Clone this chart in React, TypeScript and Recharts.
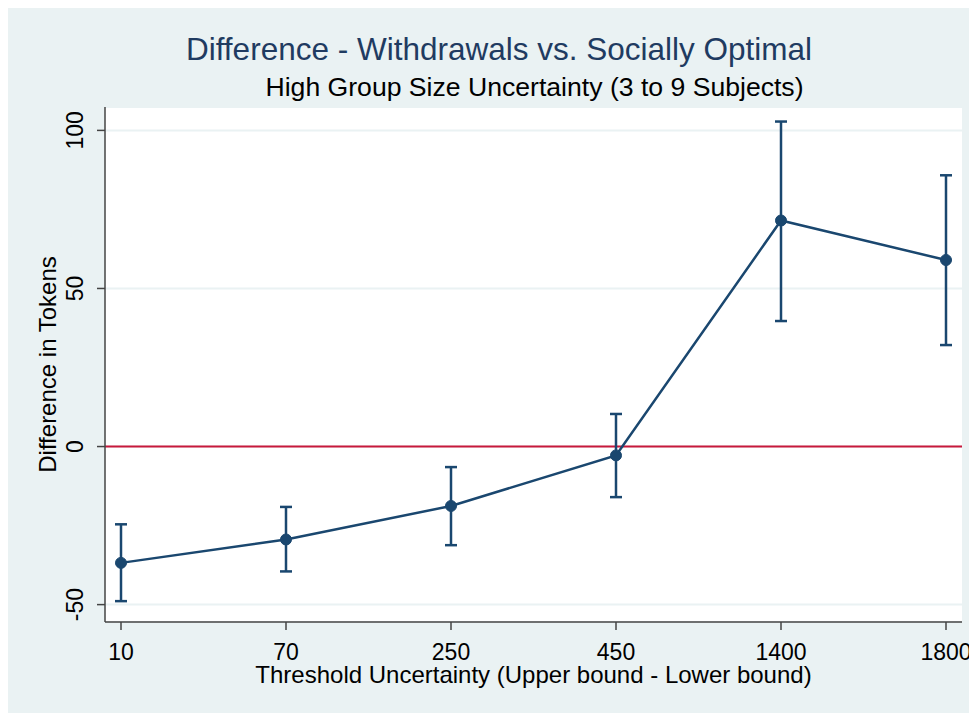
import React from 'react';
import { LineChart, Line, XAxis, YAxis, CartesianGrid, ReferenceLine, ErrorBar, Label } from 'recharts';

const categories = ['10', '70', '250', '450', '1400', '1800'];
const means = [-36.8, -29.4, -18.8, -2.8, 71.5, 59.0];
const ciLow = [-48.9, -39.5, -31.2, -16.0, 39.7, 32.1];
const ciHigh = [-24.6, -19.1, -6.5, 10.3, 102.8, 85.8];
const yTicks = [-50, 0, 50, 100];

const data = categories.map((c, i) => ({
  name: c,
  diff: means[i],
  ci: [means[i] - ciLow[i], ciHigh[i] - means[i]],
}));

const FONT = '"Liberation Sans", Arial, sans-serif';
const NAVY = '#1A476F';
const BG = '#EAF2F3';

const YTick = (props: any) => {
  const { x, y, payload } = props;
  return (
    <text x={x} y={y} transform={`rotate(-90 ${x} ${y})`} textAnchor="middle"
      fontSize={23} fontFamily={FONT} fill="#000">
      {payload.value}
    </text>
  );
};

const YTitle = (props: any) => {
  const vb = props.viewBox;
  const cx = 52;
  const cy = vb.y + vb.height / 2;
  return (
    <text x={cx} y={cy} transform={`rotate(-90 ${cx} ${cy})`} textAnchor="middle"
      fontSize={24} fontFamily={FONT} fill="#000">
      Difference in Tokens
    </text>
  );
};

const XTitle = (props: any) => {
  const vb = props.viewBox;
  return (
    <text x={vb.x + vb.width / 2} y={vb.y + 61} textAnchor="middle"
      fontSize={24} fontFamily={FONT} fill="#000">
      Threshold Uncertainty (Upper bound - Lower bound)
    </text>
  );
};

export default function App() {
  return (
    <div style={{ position: 'relative', width: 973, height: 709, marginTop: -4, marginLeft: -4, background: BG, fontFamily: FONT }}>
      <div style={{ position: 'absolute', left: 0, width: 990, top: 27, textAlign: 'center', fontSize: 31.5, lineHeight: '36px', color: '#1F3B61' }}>
        Difference - Withdrawals vs. Socially Optimal
      </div>
      <div style={{ position: 'absolute', left: 0, width: 1061, top: 68, textAlign: 'center', fontSize: 26.6, lineHeight: '30px', color: '#000' }}>
        High Group Size Uncertainty (3 to 9 Subjects)
      </div>
      <LineChart width={973} height={709} data={data}
        margin={{ top: 103, right: 15, bottom: 61, left: 41 }}>
        <CartesianGrid vertical={false} fill="#fff" stroke={BG} strokeWidth={2} />
        <XAxis dataKey="name" height={30} padding={{ left: 16, right: 16 }} tickSize={8} tickMargin={14}
          stroke="#444" strokeWidth={1.5}
          tick={{ fontSize: 23, fontFamily: FONT, fill: '#000' }}>
          <Label content={XTitle} />
        </XAxis>
        <YAxis width={60} domain={[-55.5, 107.4]} ticks={yTicks} allowDataOverflow
          tickSize={8} tickMargin={14} stroke="#444" strokeWidth={1.5} tick={<YTick />}>
          <Label content={YTitle} />
        </YAxis>
        <ReferenceLine y={0} stroke="#C8193C" strokeWidth={2} />
        <Line type="linear" dataKey="diff" stroke={NAVY} strokeWidth={2.5}
          dot={{ r: 5.5, fill: NAVY, stroke: NAVY, strokeWidth: 1 }} activeDot={false}
          isAnimationActive={false}>
          <ErrorBar dataKey="ci" width={6} stroke={NAVY} strokeWidth={2.5} direction="y" isAnimationActive={false} />
        </Line>
      </LineChart>
    </div>
  );
}
